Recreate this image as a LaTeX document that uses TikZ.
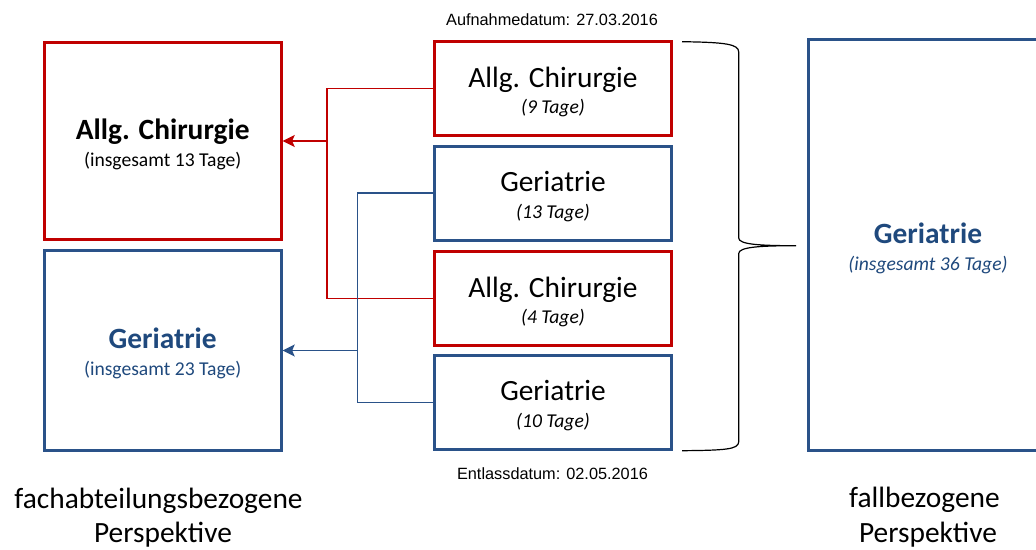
\documentclass[tikz,border=0pt]{standalone}
\usepackage{fontspec}
\setmainfont{Carlito}
\newfontfamily\arialfont{Liberation Sans}
\usetikzlibrary{arrows.meta}
\definecolor{kred}{HTML}{C00000}
\definecolor{kblue}{HTML}{2A5289}
\definecolor{kbluetext}{HTML}{1F497D}

\begin{document}
\begin{tikzpicture}[x=1pt,y=-1pt,
  box/.style={draw, line width=3pt, inner sep=0pt, fill=white},
  redbox/.style={box, draw=kred},
  bluebox/.style={box, draw=kblue},
  sidebox/.style={minimum width=237pt},
  midbox/.style={minimum width=237.6pt, minimum height=94pt},
  ttltext/.style={anchor=base, inner sep=0pt, font=\fontsize{29.4}{34}\selectfont},
  subtext/.style={anchor=base, inner sep=0pt, font=\fontsize{19.6}{24}\selectfont},
  datetext/.style={anchor=base, inner sep=0pt, font=\arialfont\fontsize{16.3}{19}\selectfont},
  redline/.style={draw=kred, line width=1.5pt},
  blueline/.style={draw=kblue, line width=1.5pt},
  tip/.style={-{Stealth[length=12pt,width=12pt,inset=2.5pt]}},
  bracestyle/.style={draw=black, line width=1.2pt}
]
\useasboundingbox (0,0) rectangle (1036,549);

% department-based view (left)
\node[redbox, sidebox, minimum height=197.6pt] (l1) at (162.7,141) {};
\node[bluebox, sidebox, minimum height=199.4pt] (l2) at (162.7,350.5) {};
\node[ttltext, font=\fontsize{29.4}{34}\selectfont\bfseries] (l1t) at (162.7,139.5) {Allg. Chirurgie};
\node[subtext] (l1s) at (162.7,166) {(insgesamt 13 Tage)};
\node[ttltext, font=\fontsize{29.4}{34}\selectfont\bfseries, text=kbluetext] (l2t) at (162.7,348) {Geriatrie};
\node[subtext, text=kbluetext] (l2s) at (162.7,375.5) {(insgesamt 23 Tage)};

% individual stays (middle)
\node[redbox, midbox] (m1) at (553,88.7) {};
\node[bluebox, midbox] (m2) at (553,193.2) {};
\node[redbox, midbox] (m3) at (553,298.7) {};
\node[bluebox, midbox] (m4) at (553,402.7) {};
\node[ttltext] (m1t) at (553,87) {Allg. Chirurgie};
\node[subtext, font=\fontsize{19.6}{24}\selectfont\itshape] (m1s) at (553,113) {(9 Tage)};
\node[ttltext] (m2t) at (553,191.5) {Geriatrie};
\node[subtext, font=\fontsize{19.6}{24}\selectfont\itshape] (m2s) at (553,218) {(13 Tage)};
\node[ttltext] (m3t) at (553,297) {Allg. Chirurgie};
\node[subtext, font=\fontsize{19.6}{24}\selectfont\itshape] (m3s) at (553,323) {(4 Tage)};
\node[ttltext] (m4t) at (553,400) {Geriatrie};
\node[subtext, font=\fontsize{19.6}{24}\selectfont\itshape] (m4s) at (553,427) {(10 Tage)};

\node[datetext] (adm) at (552,25) {Aufnahmedatum: 27.03.2016};
\node[datetext] (dis) at (552.5,479) {Entlassdatum: 02.05.2016};

% case-based view (right)
\node[bluebox, minimum width=238.4pt, minimum height=411pt] (r) at (928,244.7) {};
\node[ttltext, font=\fontsize{29.4}{34}\selectfont\bfseries, text=kbluetext] (rt) at (928,243) {Geriatrie};
\node[subtext, font=\fontsize{19.6}{24}\selectfont\itshape, text=kbluetext] (rs) at (928,270) {(insgesamt 36 Tage)};

% collecting lines
\path (l1.east) ++(44.3,0) coordinate (rbus);
\path (l2.east) ++(75,0) coordinate (bbus);
\draw[redline] (m1.west) -| (rbus) |- (m3.west);
\draw[redline, tip] (rbus) -- (l1.east);
\draw[blueline] (m2.west) -| (bbus) |- (m4.west);
\draw[blueline, tip] (bbus) -- (l2.east);

% curly brace spanning the whole stay
\coordinate (bt) at (682,41.7);
\coordinate (bm) at (796,245.7);
\coordinate (bb) at (682,450.7);
\draw[bracestyle] (bt) .. controls (725,42.3) and (738.7,44) .. (738.7,52)
  -- (738.7,238) .. controls (738.7,244.5) and (760,245.7) .. (bm)
  .. controls (760,245.7) and (738.7,247) .. (738.7,253.5)
  -- (738.7,441.7) .. controls (738.7,449.5) and (725,450.3) .. (bb);

% captions
\node[ttltext] (cl1) at (158.5,508) {fachabteilungsbezogene};
\node[ttltext] (cl2) at (163,542) {Perspektive};
\node[ttltext] (cr1) at (924.5,507) {fallbezogene};
\node[ttltext] (cr2) at (928,542) {Perspektive};
\end{tikzpicture}
\end{document}
